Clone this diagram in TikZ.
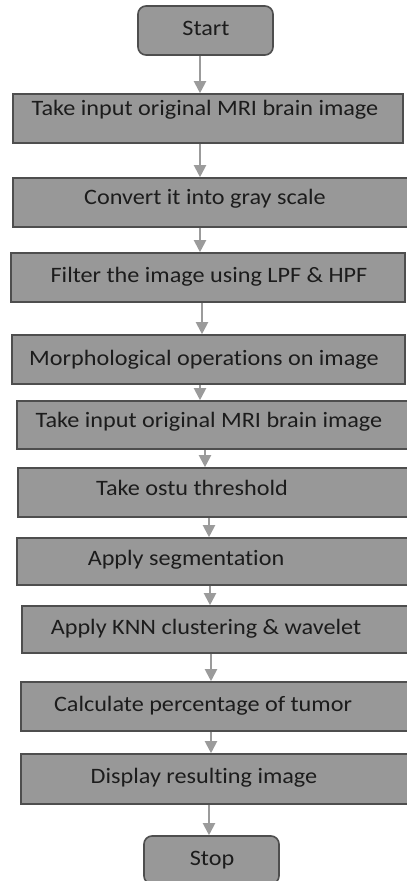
\documentclass[tikz,border=0pt]{standalone}
\usepackage{fontspec}
\setmainfont{Carlito}[Ligatures=NoCommon,FakeStretch=1.1]
\usetikzlibrary{arrows.meta}

\definecolor{boxfill}{RGB}{152,152,152}
\definecolor{boxline}{RGB}{78,78,78}
\definecolor{arrowgray}{RGB}{155,155,155}
\definecolor{txtgray}{RGB}{28,28,28}

\begin{document}
\begin{tikzpicture}[x=1pt,y=-1pt,
    >={Triangle[length=12pt,width=12pt]},
    procbox/.style={rectangle,draw=boxline,fill=boxfill,line width=1.6pt,inner sep=0pt},
    termbox/.style={procbox,rounded corners=8pt,minimum width=135pt},
    txt/.style={anchor=base,text=txtgray,inner sep=0pt,font=\fontsize{22}{26}\selectfont},
    flow/.style={->,draw=arrowgray,line width=2pt}]
                \useasboundingbox (0,0) rectangle (407,881);
                \clip (0,0) rectangle (407,881);
                % boxes
                \node[termbox,minimum height=49pt] (st) at (205.5,30.5) {};
                \node[procbox,minimum width=390pt,minimum height=49pt] (b1) at (208,118.5) {};
                \node[procbox,minimum width=399pt,minimum height=49pt] (b2) at (212.5,202.5) {};
                \node[procbox,minimum width=394pt,minimum height=49pt] (b3) at (208,277.5) {};
                \node[procbox,minimum width=393pt,minimum height=49pt] (b4) at (208.5,359.5) {};
                \node[procbox,minimum width=395pt,minimum height=48pt] (b5) at (214.5,425) {};
                \node[procbox,minimum width=394pt,minimum height=49pt] (b6) at (215,492.5) {};
                \node[procbox,minimum width=395pt,minimum height=47pt] (b7) at (214.5,561.5) {};
                \node[procbox,minimum width=390pt,minimum height=47pt] (b8) at (217,629.5) {};
                \node[procbox,minimum width=391pt,minimum height=49pt] (b9) at (216.5,706.5) {};
                \node[procbox,minimum width=391pt,minimum height=50pt] (b10) at (216.5,779) {};
                \node[termbox,minimum height=48pt] (sp) at (211.5,860) {};
                % texts
                \node[txt] (tst) at (206,35) {Start};
                \node[txt] (t1) at (205,115) {Take input original MRI brain image};
                \node[txt] (t2) at (205,204) {Convert it into gray scale};
                \node[txt] (t3) at (209,282) {Filter the image using LPF \& HPF};
                \node[txt] (t4) at (204,365) {Morphological operations on image};
                \node[txt] (t5) at (209,427) {Take input original MRI brain image};
                \node[txt] (t6) at (192,495) {Take ostu threshold};
                \node[txt] (t7) at (186,565) {Apply segmentation};
                \node[txt] (t8) at (206,634) {Apply KNN clustering \& wavelet};
                \node[txt] (t9) at (203,711) {Calculate percentage of tumor};
                \node[txt] (t10) at (204,783) {Display resulting image};
                \node[txt] (tsp) at (212,865) {Stop};
                % arrows
                \foreach \a/\b/\x in {st/b1/200,b1/b2/200,b2/b3/200,b3/b4/202,b4/b5/200,
                    b5/b6/205,b6/b7/209,b7/b8/210,b8/b9/211,b9/b10/211,b10/sp/209}
                    \draw[flow] (\a.south -| \x,0) -- (\b.north -| \x,0);
            \end{tikzpicture}
\end{document}
